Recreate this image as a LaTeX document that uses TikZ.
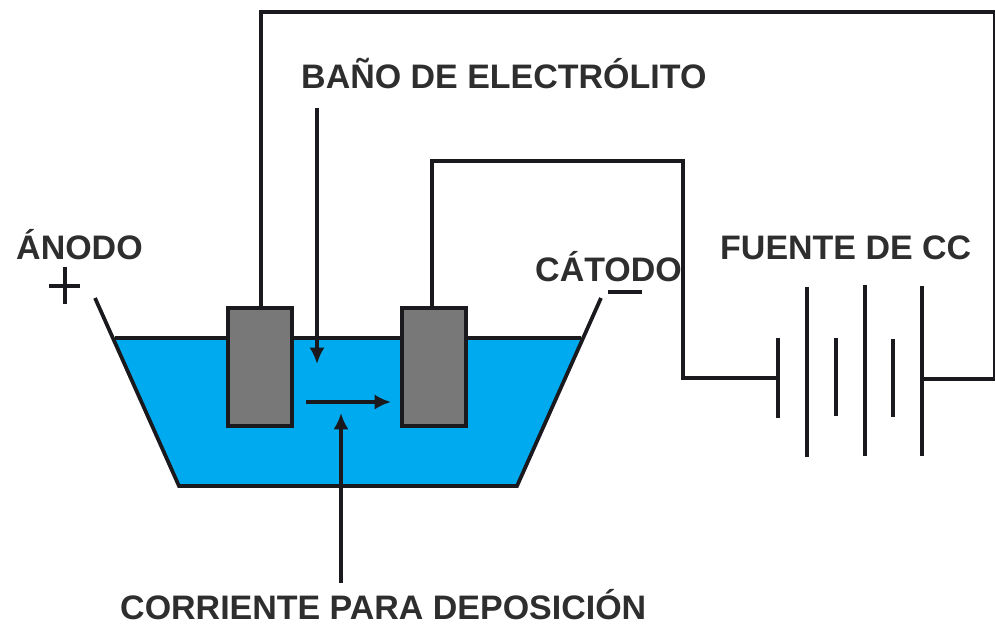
\documentclass[tikz,border=0pt]{standalone}
\usepackage{fontspec}
\setmainfont{Liberation Sans}
\usetikzlibrary{arrows.meta}
\definecolor{bath}{RGB}{0,170,238}
\definecolor{plate}{RGB}{120,120,120}
\definecolor{ink}{RGB}{25,25,30}
\tikzset{
  wire/.style={draw=ink,line width=3.2pt},
  thin wire/.style={draw=ink,line width=2.7pt},
  lbl/.style={inner sep=0pt,anchor=base west,font=\bfseries\fontsize{29}{32}\selectfont,text=black!82},
  arr/.style={wire,-{Latex[length=14pt,width=13pt]}},
  elec/.style={draw=ink,fill=plate,line width=3.4pt,minimum width=1.92cm,minimum height=3.54cm,inner sep=0pt}
}
\begin{document}
\begin{tikzpicture}[x=0.03cm,y=-0.03cm]
\useasboundingbox[fill=white] (0,0) rectangle (995,626);
\fill[bath] (115,340) -- (581,340) -- (517,486) -- (179,486) -- cycle;
\draw[wire] (95,298) -- (179,486) -- (517,486) -- (601,298);
\draw[wire] (115,338) -- (581,338);
\node[elec] (an) at (260,367) {};
\node[elec] (ca) at (434,367) {};
\coordinate (b1) at (778,378);
\coordinate (b4) at (922,379);
\draw[wire] ([xshift=0.03cm]an.north) -- (261,12) -- (995,12) -- (995,379) -- (b4);
\draw[wire] ([xshift=-0.06cm]ca.north) -- (432,161) -- (683,161) -- (683,378) -- (b1);
\draw[wire] (778,338) -- (778,418);
\draw[wire] (807,287) -- (807,457);
\draw[thin wire] (836,338) -- (836,416);
\draw[thin wire] (865,285) -- (865,456);
\draw[thin wire] (893,339) -- (893,417);
\draw[thin wire] (922,286) -- (922,456);
\node[lbl] (t1) at (301,89) {BAÑO DE ELECTRÓLITO};
\node[lbl] (t2) at (16,260) {ÁNODO};
\node[lbl] (t3) at (535,282) {CÁTODO};
\node[lbl] (t4) at (720,260) {FUENTE DE CC};
\node[lbl] (t5) at (120,620) {CORRIENTE PARA DEPOSICIÓN};
\coordinate (a1) at (317,108); \coordinate (a2) at (317,364);
\draw[arr] (a1) -- (a2);
\coordinate (a3) at (306,402); \coordinate (a4) at (391,402);
\draw[arr] (a3) -- (a4);
\coordinate (a5) at (341,583); \coordinate (a6) at (341,413);
\draw[arr] (a5) -- (a6);
\draw[thin wire] (49,286) -- (80,286);
\draw[thin wire] (65,267) -- (65,304);
\draw[thin wire] (608,292) -- (642,292);
\end{tikzpicture}
\end{document}
